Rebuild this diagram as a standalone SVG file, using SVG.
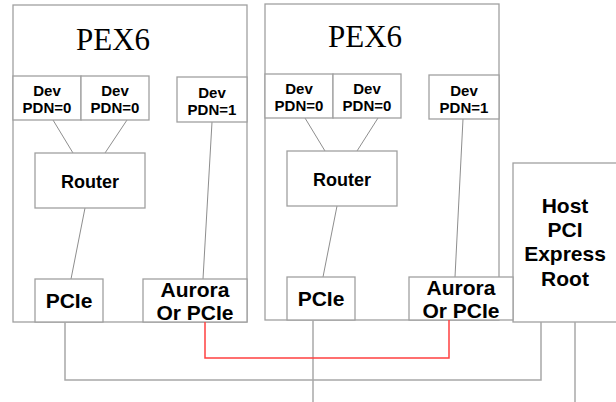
<svg xmlns="http://www.w3.org/2000/svg" width="616" height="402" viewBox="0 0 616 402">
<style>
.box{fill:#fff;stroke:#a0a0a0;stroke-width:1.3}
.in{fill:#fff;stroke:#a0a0a0;stroke-width:1.3}
.t{font-family:"Liberation Sans",Arial,sans-serif;font-weight:bold;fill:#000;text-anchor:middle}
.dev{font-size:15px}
.big{font-size:21px}
.router{font-size:18px}
.title{font-family:"Liberation Serif","Times New Roman",serif;font-size:31px;fill:#000;text-anchor:middle}
.link{stroke:#707070;stroke-width:0.8;fill:none}
.conn{stroke:#a8a8a8;stroke-width:1.5;fill:none}
.red{stroke:#ff4040;stroke-width:1.5;fill:none}
</style>
<rect width="616" height="402" fill="#fff"/>
<g id="pex-left">
<rect class="box" x="13" y="5" width="234" height="317"/>
<text class="title" x="113" y="50">PEX6</text>
</g>
<g id="pex-right">
<rect class="box" x="265" y="4" width="234" height="316"/>
<text class="title" x="365" y="47">PEX6</text>
</g>
<g id="host">
<rect class="box" x="513" y="163" width="120" height="159"/>
<text class="t big" x="565" y="213">Host</text>
<text class="t big" x="565" y="237">PCI</text>
<text class="t big" x="565" y="261">Express</text>
<text class="t big" x="565" y="286">Root</text>
</g>
<g id="links">
<line class="link" x1="53" y1="120" x2="73" y2="153"/>
<line class="link" x1="127" y1="120" x2="105" y2="153"/>
<line class="link" x1="85" y1="208" x2="71" y2="279"/>
<line class="link" x1="212" y1="122" x2="203" y2="279"/>
<line class="link" x1="305" y1="118" x2="325" y2="151"/>
<line class="link" x1="378" y1="118" x2="357" y2="151"/>
<line class="link" x1="337" y1="206" x2="323" y2="277"/>
<line class="link" x1="463" y1="119" x2="455" y2="277"/>
</g>
<g id="dev-l1">
<rect class="in" x="13" y="76" width="68" height="44"/>
<text class="t dev" x="47" y="96">Dev</text>
<text class="t dev" x="47" y="113">PDN=0</text>
</g>
<g id="dev-l2">
<rect class="in" x="81" y="76" width="68" height="44"/>
<text class="t dev" x="115" y="96">Dev</text>
<text class="t dev" x="115" y="113">PDN=0</text>
</g>
<g id="dev-l3">
<rect class="in" x="177" y="77" width="70" height="45"/>
<text class="t dev" x="212" y="98">Dev</text>
<text class="t dev" x="212" y="115">PDN=1</text>
</g>
<g id="router-l">
<rect class="in" x="35" y="153" width="110" height="55"/>
<text class="t router" x="90" y="188">Router</text>
</g>
<g id="pcie-l">
<rect class="in" x="35" y="279" width="68" height="43"/>
<text class="t big" x="69" y="308">PCIe</text>
</g>
<g id="aurora-l">
<rect class="in" x="143" y="279" width="104" height="43"/>
<text class="t big" x="195" y="297">Aurora</text>
<text class="t big" x="195" y="320">Or PCIe</text>
</g>
<g id="dev-r1">
<rect class="in" x="265" y="74" width="68" height="44"/>
<text class="t dev" x="299" y="94">Dev</text>
<text class="t dev" x="299" y="111">PDN=0</text>
</g>
<g id="dev-r2">
<rect class="in" x="333" y="74" width="68" height="44"/>
<text class="t dev" x="367" y="94">Dev</text>
<text class="t dev" x="367" y="111">PDN=0</text>
</g>
<g id="dev-r3">
<rect class="in" x="429" y="75" width="70" height="44"/>
<text class="t dev" x="464" y="96">Dev</text>
<text class="t dev" x="464" y="113">PDN=1</text>
</g>
<g id="router-r">
<rect class="in" x="287" y="151" width="110" height="55"/>
<text class="t router" x="342" y="186">Router</text>
</g>
<g id="pcie-r">
<rect class="in" x="287" y="277" width="68" height="43"/>
<text class="t big" x="321" y="306">PCIe</text>
</g>
<g id="aurora-r">
<rect class="in" x="409" y="277" width="104" height="43"/>
<text class="t big" x="461" y="295">Aurora</text>
<text class="t big" x="461" y="318">Or PCIe</text>
</g>
<g id="connectors">
<polyline class="conn" points="65,322 65,380 541,380 541,322"/>
<line class="conn" x1="313" y1="320" x2="313" y2="402"/>
<line class="conn" x1="575" y1="322" x2="575" y2="402"/>
<polyline class="red" points="205,322 205,358 449,358 449,320"/>
</g>
</svg>
